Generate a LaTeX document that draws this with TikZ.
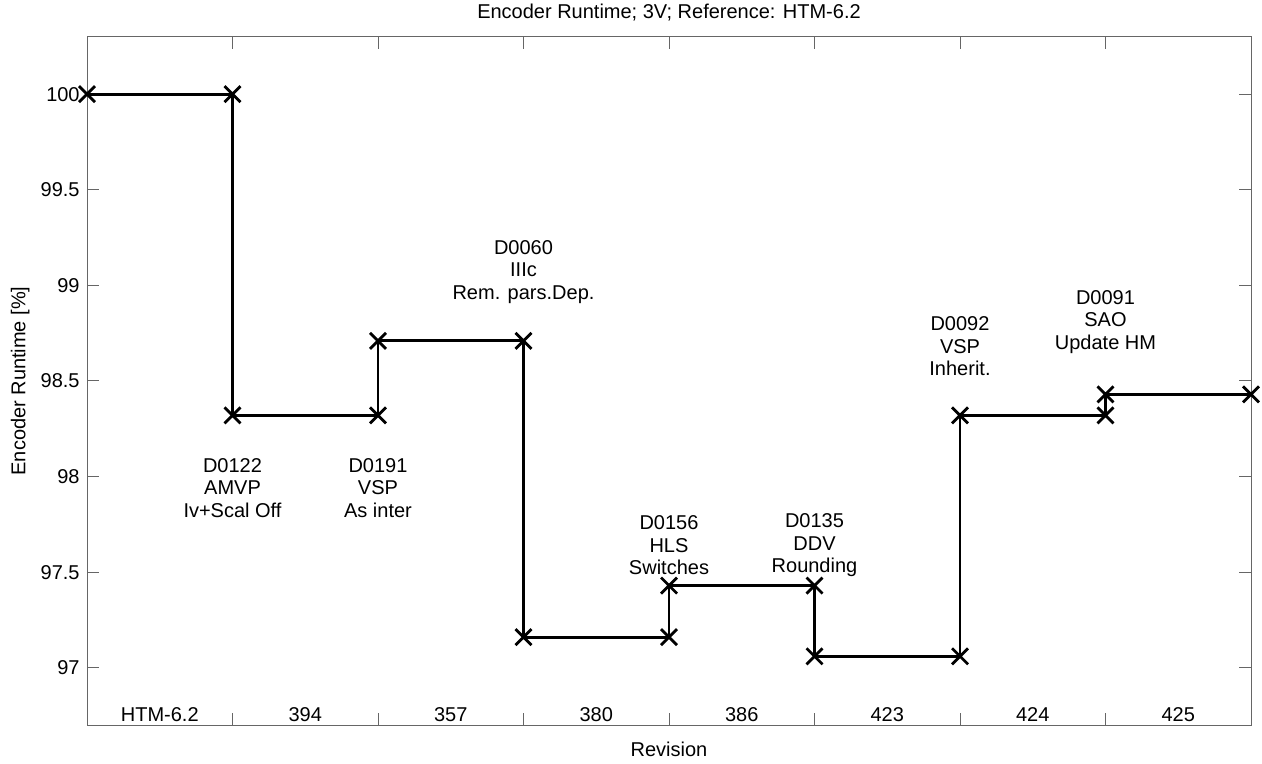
\documentclass[tikz,border=0pt]{standalone}
\usepackage{fontspec}
\setmainfont{Liberation Sans}
\usetikzlibrary{shapes.misc}
\tikzstyle{xmark} = [draw,cross out,line width=1.4pt,minimum size=6.6pt,inner sep=0pt]
\tikzstyle{run} = [line width=1.4pt]
\tikzstyle{axis} = [draw=black!60,line width=0.5pt]
\tikzstyle{note} = [align=center,inner sep=0pt,font=\fontsize{10}{11.25}\selectfont]
\tikzstyle{ticklabel} = [inner sep=0pt,font=\fontsize{10}{12}\selectfont]

\begin{document}
\begin{tikzpicture}[x=72.75pt,y=95.6pt]
        \useasboundingbox (-0.598,96.503) rectangle (8.0756,100.4937);
        \draw[axis] (0,96.7) rectangle (8,100.3);
        \draw[axis] (0,97) -- ++(6pt,0) (0,97.5) -- ++(6pt,0) (0,98) -- ++(6pt,0) (0,98.5) -- ++(6pt,0)
            (0,99) -- ++(6pt,0) (0,99.5) -- ++(6pt,0) (0,100) -- ++(6pt,0);
        \draw[axis] (8,97) -- ++(-6pt,0) (8,97.5) -- ++(-6pt,0) (8,98) -- ++(-6pt,0) (8,98.5) -- ++(-6pt,0)
            (8,99) -- ++(-6pt,0) (8,99.5) -- ++(-6pt,0) (8,100) -- ++(-6pt,0);
        \draw[axis] (1,96.7) -- ++(0,6pt) (2,96.7) -- ++(0,6pt) (3,96.7) -- ++(0,6pt) (4,96.7) -- ++(0,6pt)
            (5,96.7) -- ++(0,6pt) (6,96.7) -- ++(0,6pt) (7,96.7) -- ++(0,6pt);
        \draw[axis] (1,100.3) -- ++(0,-6pt) (2,100.3) -- ++(0,-6pt) (3,100.3) -- ++(0,-6pt) (4,100.3) -- ++(0,-6pt)
            (5,100.3) -- ++(0,-6pt) (6,100.3) -- ++(0,-6pt) (7,100.3) -- ++(0,-6pt);

        \node[ticklabel, anchor=east] at (-0.048,97) (y970) {97};
        \node[ticklabel, anchor=east] at (-0.048,97.5) (y975) {97.5};
        \node[ticklabel, anchor=east] at (-0.048,98) (y980) {98};
        \node[ticklabel, anchor=east] at (-0.048,98.5) (y985) {98.5};
        \node[ticklabel, anchor=east] at (-0.048,99) (y990) {99};
        \node[ticklabel, anchor=east] at (-0.048,99.5) (y995) {99.5};
        \node[ticklabel, anchor=east] at (-0.048,100) (y1000) {100};

        \node[ticklabel] at (0.5,96.754) (htm) {HTM-6.2};
        \node[ticklabel] at (1.5,96.754) (rev394) {394};
        \node[ticklabel] at (2.5,96.754) (rev357) {357};
        \node[ticklabel] at (3.5,96.754) (rev380) {380};
        \node[ticklabel] at (4.5,96.754) (rev386) {386};
        \node[ticklabel] at (5.5,96.754) (rev423) {423};
        \node[ticklabel] at (6.5,96.754) (rev424) {424};
        \node[ticklabel] at (7.5,96.754) (rev425) {425};

        \node[ticklabel] at (4,100.426) (title) {Encoder Runtime; 3V; Reference: HTM-6.2};
        \node[ticklabel] at (4,96.571) (xlabel) {Revision};
        \node[ticklabel, rotate=90] at (-0.46,98.5) (ylabel) {Encoder Runtime [\%]};

        \node[xmark] at (0,100) (r0) {};
        \node[xmark] at (1,100) (r1a) {};
        \node[xmark] at (1,98.32) (r1b) {};
        \node[xmark] at (2,98.32) (r2a) {};
        \node[xmark] at (2,98.71) (r2b) {};
        \node[xmark] at (3,98.71) (r3a) {};
        \node[xmark] at (3,97.16) (r3b) {};
        \node[xmark] at (4,97.16) (r4a) {};
        \node[xmark] at (4,97.43) (r4b) {};
        \node[xmark] at (5,97.43) (r5a) {};
        \node[xmark] at (5,97.06) (r5b) {};
        \node[xmark] at (6,97.06) (r6a) {};
        \node[xmark] at (6,98.32) (r6b) {};
        \node[xmark] at (7,98.32) (r7a) {};
        \node[xmark] at (7,98.43) (r7b) {};
        \node[xmark] at (8,98.43) (r8) {};

        \draw[run] (r0.center) -- (r1a.center) -- (r1b.center) -- (r2a.center) -- (r2b.center)
            -- (r3a.center) -- (r3b.center) -- (r4a.center) -- (r4b.center) -- (r5a.center)
            -- (r5b.center) -- (r6a.center) -- (r6b.center) -- (r7a.center) -- (r7b.center) -- (r8.center);

        \node[note] at (1,97.94) (d0122) {D0122\\AMVP\\Iv+Scal Off};
        \node[note] at (2,97.94) (d0191) {D0191\\VSP\\As inter};
        \node[note] at (3,99.07) (d0060) {D0060\\IIIc\\Rem. pars.Dep.};
        \node[note] at (4,97.64) (d0156) {D0156\\HLS\\Switches};
        \node[note] at (5,97.64) (d0135) {D0135\\DDV\\Rounding};
        \node[note] at (6,98.68) (d0092) {D0092\\VSP\\Inherit.};
        \node[note] at (7,98.81) (d0091) {D0091\\SAO\\Update HM};

    \end{tikzpicture}
\end{document}
